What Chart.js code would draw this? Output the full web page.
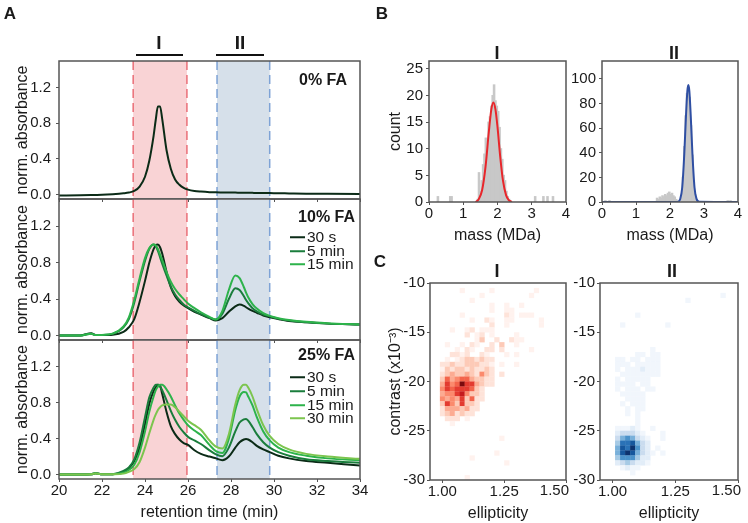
<!DOCTYPE html>
<html>
<head>
<meta charset="utf-8">
<title>FA chromatograms</title>
<script src="https://cdn.jsdelivr.net/npm/chart.js@4.4.1/dist/chart.umd.min.js"></script>
<style>
  html, body { margin: 0; padding: 0; background: #fff; }
  #fig { position: relative; width: 748px; height: 523px; overflow: hidden;
         font-family: "Liberation Sans", Arial, Helvetica, sans-serif; color: #1a1a1a; }
  #fig canvas { position: absolute; left: 0; top: 0; }
  .t { position: absolute; transform: translate(-50%, -50%); white-space: nowrap; line-height: 1; }
  .t.r { transform: translate(-100%, -50%); }
  .b { font-weight: bold; }
  .leg { position: absolute; transform: translateY(-50%); display: flex; align-items: center;
         font-size: 15.5px; line-height: 1; white-space: nowrap; }
  .leg i { display: inline-block; width: 15px; height: 2px; margin-right: 2px; }
  .bar { position: absolute; height: 2px; background: #111; }
</style>
</head>
<body>
<div id="fig">
  <canvas id="chromTop" width="748" height="523"></canvas>
  <canvas id="chromMid" width="748" height="523"></canvas>
  <canvas id="chromBot" width="748" height="523"></canvas>
  <canvas id="massI" width="748" height="523"></canvas>
  <canvas id="massII" width="748" height="523"></canvas>
  <canvas id="heatI" width="748" height="523"></canvas>
  <canvas id="heatII" width="748" height="523"></canvas>

  <div class="t b" style="left:10px;top:13px;font-size:17px">A</div>
  <div class="t b" style="left:382px;top:13px;font-size:17px">B</div>
  <div class="t b" style="left:380px;top:261px;font-size:17px">C</div>

  <div class="t b" style="left:159px;top:42px;font-size:19px">I</div>
  <div class="bar" style="left:136px;top:54px;width:47px"></div>
  <div class="t b" style="left:240px;top:42px;font-size:19px">II</div>
  <div class="bar" style="left:216px;top:54px;width:48px"></div>

  <div class="t b" style="left:497px;top:53px;font-size:18px">I</div>
  <div class="t b" style="left:674px;top:53px;font-size:18px">II</div>
  <div class="t b" style="left:497px;top:271px;font-size:18px">I</div>
  <div class="t b" style="left:672px;top:271px;font-size:18px">II</div>

  <div class="t r b" style="left:347px;top:80px;font-size:16px">0% FA</div>

  <div class="t r b" style="left:355px;top:217px;font-size:16px">10% FA</div>
  <div class="leg" style="left:290px;top:237px"><i style="background:#0b2b17"></i>30 s</div>
  <div class="leg" style="left:290px;top:251px"><i style="background:#1a7d3c"></i>5 min</div>
  <div class="leg" style="left:290px;top:264px"><i style="background:#2db34b"></i>15 min</div>

  <div class="t r b" style="left:355px;top:355px;font-size:16px">25% FA</div>
  <div class="leg" style="left:290px;top:377px"><i style="background:#0b2b17"></i>30 s</div>
  <div class="leg" style="left:290px;top:391px"><i style="background:#1a7d3c"></i>5 min</div>
  <div class="leg" style="left:290px;top:405px"><i style="background:#2db34b"></i>15 min</div>
  <div class="leg" style="left:290px;top:418px"><i style="background:#7cc54e"></i>30 min</div>
</div>

<script>
// retention time grid (min) shared by all traces
const timeMin = [20, 21, 21.5, 21.7, 22, 22.5, 23, 23.25, 23.5, 23.75, 24, 24.2, 24.4, 24.5, 24.6, 24.7, 24.8, 25, 25.2, 25.4, 25.6, 25.8, 26, 26.3, 26.6, 27, 27.3, 27.6, 27.9, 28.2, 28.4, 28.6, 28.7, 28.8, 29, 29.2, 29.5, 29.8, 30.2, 30.7, 31.5, 32.5, 34];

const fa0 = [-0.01, -0.008, -0.006, -0.005, -0.003, 0.004, 0.014, 0.022, 0.04, 0.09, 0.2, 0.38, 0.66, 0.84, 0.99, 0.99, 0.85, 0.5, 0.29, 0.17, 0.11, 0.075, 0.055, 0.04, 0.033, 0.027, 0.025, 0.024, 0.023, 0.022, 0.021, 0.02, 0.02, 0.02, 0.019, 0.018, 0.017, 0.016, 0.015, 0.013, 0.01, 0.008, 0.005];

const fa10_30s = [0, 0, 0.025, 0.004, 0.004, 0.008, 0.04, 0.09, 0.18, 0.37, 0.6, 0.8, 0.95, 0.99, 1.0, 0.97, 0.9, 0.7, 0.53, 0.43, 0.37, 0.33, 0.3, 0.26, 0.23, 0.19, 0.165, 0.19, 0.26, 0.32, 0.34, 0.325, 0.31, 0.295, 0.27, 0.25, 0.22, 0.2, 0.18, 0.16, 0.145, 0.13, 0.12];
const fa10_5min = [0, 0, 0.02, 0.004, 0.005, 0.018, 0.09, 0.18, 0.36, 0.6, 0.82, 0.95, 1.0, 0.98, 0.93, 0.86, 0.79, 0.66, 0.54, 0.45, 0.39, 0.34, 0.31, 0.27, 0.235, 0.195, 0.175, 0.24, 0.4, 0.52, 0.5, 0.43, 0.39, 0.355, 0.3, 0.265, 0.23, 0.21, 0.185, 0.165, 0.145, 0.13, 0.12];
const fa10_15min = [0, 0, 0.02, 0.004, 0.006, 0.02, 0.1, 0.2, 0.39, 0.63, 0.85, 0.96, 1.0, 0.99, 0.95, 0.89, 0.83, 0.7, 0.59, 0.51, 0.45, 0.4, 0.35, 0.3, 0.255, 0.205, 0.175, 0.27, 0.5, 0.66, 0.63, 0.53, 0.47, 0.42, 0.345, 0.295, 0.245, 0.215, 0.19, 0.17, 0.15, 0.135, 0.12];

const fa25_30s = [0, 0, 0.002, 0.015, 0.002, 0.003, 0.03, 0.07, 0.15, 0.3, 0.56, 0.79, 0.93, 0.97, 1.0, 0.99, 0.9, 0.7, 0.54, 0.45, 0.39, 0.35, 0.33, 0.27, 0.23, 0.2, 0.18, 0.16, 0.2, 0.3, 0.36, 0.39, 0.395, 0.39, 0.36, 0.32, 0.28, 0.25, 0.21, 0.18, 0.15, 0.13, 0.1];
const fa25_5min = [0, 0, 0.002, 0.015, 0.002, 0.004, 0.04, 0.08, 0.17, 0.36, 0.64, 0.86, 0.97, 1.0, 1.0, 0.98, 0.94, 0.83, 0.71, 0.61, 0.53, 0.47, 0.42, 0.38, 0.34, 0.27, 0.225, 0.205, 0.3, 0.48, 0.58, 0.615, 0.62, 0.6, 0.53, 0.45, 0.36, 0.3, 0.25, 0.21, 0.17, 0.15, 0.13];
const fa25_15min = [0, 0, 0.002, 0.014, 0.002, 0.003, 0.02, 0.05, 0.11, 0.25, 0.48, 0.7, 0.87, 0.94, 0.98, 1.0, 1.0, 0.95, 0.87, 0.77, 0.68, 0.61, 0.55, 0.49, 0.44, 0.33, 0.26, 0.24, 0.4, 0.72, 0.87, 0.92, 0.915, 0.87, 0.77, 0.64, 0.48, 0.38, 0.3, 0.25, 0.21, 0.18, 0.16];
const fa25_30min = [0, 0, 0.002, 0.012, 0.002, 0.003, 0.01, 0.03, 0.06, 0.14, 0.3, 0.46, 0.61, 0.67, 0.72, 0.75, 0.77, 0.78, 0.78, 0.75, 0.7, 0.65, 0.6, 0.55, 0.5, 0.38, 0.31, 0.29, 0.45, 0.78, 0.94, 1.0, 1.0, 0.97, 0.87, 0.73, 0.55, 0.43, 0.34, 0.28, 0.23, 0.2, 0.175];

const absTicks = [0, 0.4, 0.8, 1.2];
const timeTicks = [20, 22, 24, 26, 28, 30, 32, 34];
const poolI = [23.45, 25.95];
const poolII = [27.35, 29.8];

// mass photometry histograms (bin centre in MDa, count)
const massI = [0.26, 0.62, 0.66, 1.42, 1.46, 1.50, 1.54, 1.58, 1.62, 1.66, 1.70, 1.74, 1.78, 1.82, 1.86, 1.90, 1.94, 1.98, 2.02, 2.06, 2.10, 2.14, 2.18, 2.22, 2.26, 2.30, 2.34, 3.10, 3.34, 3.46, 3.62];
const countI = [1, 1, 1, 0.5, 5.5, 2, 4, 7, 9, 12, 11, 15, 16, 18, 20, 22, 19, 18, 17, 14, 10, 8, 5, 4, 2, 1, 0.5, 1, 1, 1, 1];
const fitMassI = [1.36, 1.45, 1.55, 1.65, 1.75, 1.82, 1.88, 1.94, 2.0, 2.08, 2.16, 2.25, 2.33, 2.42];
const fitCountI = [0, 0.5, 2.2, 6.6, 13.4, 17.4, 18.7, 17.4, 14.1, 8.5, 4.0, 1.3, 0.36, 0];

const massII = [0.10, 0.22, 1.62, 1.66, 1.70, 1.74, 1.78, 1.82, 1.86, 1.90, 1.94, 1.98, 2.02, 2.06, 2.10, 2.14, 2.18, 2.22, 2.34, 2.38, 2.42, 2.46, 2.50, 2.54, 2.58, 2.62, 2.66, 2.70, 2.74, 2.78, 3.70, 3.78];
const countII = [1, 1, 3, 2, 4, 3, 5, 4, 6, 5, 7, 8, 6, 7, 5, 4, 2, 1, 5, 20, 45, 70, 88, 93, 85, 62, 38, 17, 6, 2, 1, 1];
const fitMassII = [0, 2.22, 2.3, 2.36, 2.42, 2.47, 2.51, 2.54, 2.57, 2.61, 2.66, 2.72, 2.78, 2.86, 4];
const fitCountII = [0, 0, 2.5, 12, 39, 70, 90, 95, 90, 70, 39, 12, 2.5, 0.2, 0];

const massTicks = [0, 1, 2, 3, 4];
const countTicksI = [0, 5, 10, 15, 20, 25];
const countTicksII = [0, 20, 40, 60, 80, 100];

// 2D histograms: rows from contrast -10 downwards (0.5 per row), columns from ellipticity 0.95 (0.02 per column), value 0-9
const heatX0 = 0.95, heatDX = 0.02, heatY0 = -10, heatDY = 0.5;
const heatRowsI = [
  "0000000000000000000000000000",
  "0000001000001000000001000000",
  "0000000000100000000010000000",
  "0000000010000000000000000000",
  "0000000000001001001000000000",
  "0000000000001001100000000000",
  "0000001000000002101110000000",
  "0000000010021001100000100000",
  "0000000000002001000000100000",
  "0000100120111000000000000000",
  "0000000201201000010000000000",
  "0000000001300200211000000000",
  "0001001021002030010000000000",
  "0000010210022020000010000000",
  "0000221200210001010000000000",
  "0001012332322000000000000000",
  "0022322333221010010000000000",
  "0013233232232000000000000000",
  "0023433432532020000000000000",
  "0036456643322000000000000000",
  "0047569774322000000000000000",
  "0057677763200000000000000000",
  "0045578533200000000000000000",
  "0054547362200000000000000000",
  "0037537332000000000000000000",
  "0024443422000000000000000000",
  "0023423220000000000000000000",
  "0002220100000000000000000000",
  "0000100000000000000000000000",
  "0000000000000000000000000000",
  "0000000000000000000000000000",
  "0000000000000010000000000000",
  "0000000000000000000000000000",
  "0000000000000000000000000000",
  "0000000000000100000000000000",
  "0000000010000000000000000000",
  "0000000000000001000000000000",
  "0000000000000000000000000000",
  "0000000000000000000000000000",
  "0000000100000000000000000000"
];
const heatRowsII = [
  "0000000000000000000000000000",
  "0000000000000000000000000000",
  "0000000000000000000000001000",
  "0000000000000000010000000000",
  "0000000000000000000000000000",
  "0000000000000000000000000000",
  "0000000100000000000000000000",
  "0000000000000000000000000000",
  "0000100000000100000000000000",
  "0000000000000000000000000000",
  "0000000000000000000000000000",
  "0000000000000000000000000000",
  "0000000000000000000000000000",
  "0000000000100000000000000000",
  "0000000110110000000000000000",
  "0001101101110000000000000000",
  "0001110111110000000000000000",
  "0001011121110000000000000000",
  "0000111111110000000000000000",
  "0001011111000000000000000000",
  "0001111011000000000000000000",
  "0001011101100000000000000000",
  "0000111110000000000000000000",
  "0000011110000000000000000000",
  "0000101110000000000000000000",
  "0000010110000000000000000000",
  "0000010100000000000000000000",
  "0000000100000000000000000000",
  "0000000100000000000000000000",
  "0001112100100000000000000000",
  "0002333210001000000000000000",
  "0003565321001000000000000000",
  "0004778532000000000000000000",
  "0005879632010000000000000000",
  "0005898532101000000000000000",
  "0004666422000000000000000000",
  "0002343221000000000000000000",
  "0000121100000000000000000000",
  "0000001000000000000000000000",
  "0000000000000000000000000000"
];
const ellipTicks = [1.0, 1.25, 1.5];
const contrastTicks = [-30, -25, -20, -15, -10];

const FONT = '"Liberation Sans", Arial, Helvetica, sans-serif';
const TICK_SIZE = 15;
const redShades = ["#fff2ee", "#fee3d9", "#fdcab7", "#fcab92", "#fb8a6d", "#f3644b", "#e33b30", "#c51b1e", "#7a0a0d"];
const blueShades = ["#f1f6fc", "#e2edf8", "#cadcef", "#a6cae5", "#79b0da", "#4b92ca", "#2a72b7", "#16579d", "#0c326e"];

function fitTo(size) {
    return (s) => {
        if (s.isHorizontal()) s.height = size; else s.width = size;
        s.paddingLeft = 0; s.paddingRight = 0; s.paddingTop = 0; s.paddingBottom = 0;
    };
}

function axis(o) {
    return {
        type: "linear",
        min: o.min,
        max: o.max,
        offset: false,
        afterBuildTicks: (s) => { s.ticks = o.ticks.map((v) => ({ value: v })); },
        afterFit: fitTo(o.size),
        grid: { display: true, offset: false, drawOnChartArea: false, drawTicks: true, tickLength: 3, color: "#555" },
        border: { display: false },
        ticks: {
            display: o.labels !== false,
            font: { family: FONT, size: TICK_SIZE, lineHeight: 1 },
            color: "#1a1a1a",
            padding: o.tickPad,
            maxRotation: 0,
            autoSkip: false,
            callback: o.fmt || ((v) => String(v))
        },
        title: o.title
            ? { display: true, text: o.title, font: { family: FONT, size: 16 }, color: "#1a1a1a", padding: o.titlePad }
            : { display: false }
    };
}

function chartOptions(area, yW, xH, scales) {
    return {
        responsive: false,
        animation: false,
        devicePixelRatio: 1,
        events: [],
        layout: { padding: { left: area[0] - yW, top: area[1], right: 748 - area[2], bottom: 523 - area[3] - xH } },
        plugins: { legend: { display: false }, tooltip: { enabled: false } },
        scales: scales
    };
}

const framePlugin = {
    id: "frame",
    afterDraw(chart) {
        const a = chart.chartArea, c = chart.ctx;
        c.save();
        c.strokeStyle = "#555";
        c.lineWidth = 1.5;
        c.strokeRect(a.left, a.top, a.right - a.left, a.bottom - a.top);
        c.restore();
    }
};

// shaded elution windows I and II with dashed edges
const poolPlugin = {
    id: "pools",
    beforeDatasetsDraw(chart) {
        const x = chart.scales.x, a = chart.chartArea, c = chart.ctx;
        [[poolI, "#f9d3d5", "#ea6f78"], [poolII, "#d6e0ea", "#7ea3d6"]].forEach(([r, fill, edge]) => {
            const x1 = x.getPixelForValue(r[0]), x2 = x.getPixelForValue(r[1]);
            c.save();
            c.fillStyle = fill;
            c.fillRect(x1, a.top, x2 - x1, a.bottom - a.top);
            c.strokeStyle = edge;
            c.lineWidth = 1.5;
            c.setLineDash([9, 5]);
            c.beginPath();
            c.moveTo(x1, a.top); c.lineTo(x1, a.bottom);
            c.moveTo(x2, a.top); c.lineTo(x2, a.bottom);
            c.stroke();
            c.restore();
        });
    }
};

function heatPlugin(rows, shades) {
    return {
        id: "heat",
        beforeDatasetsDraw(chart) {
            const x = chart.scales.x, y = chart.scales.y, a = chart.chartArea, c = chart.ctx;
            c.save();
            c.beginPath();
            c.rect(a.left, a.top, a.right - a.left, a.bottom - a.top);
            c.clip();
            rows.forEach((row, r) => {
                for (let k = 0; k < row.length; k++) {
                    const v = +row[k];
                    if (!v) continue;
                    const x1 = x.getPixelForValue(heatX0 + k * heatDX);
                    const x2 = x.getPixelForValue(heatX0 + (k + 1) * heatDX);
                    const y1 = y.getPixelForValue(heatY0 - r * heatDY);
                    const y2 = y.getPixelForValue(heatY0 - (r + 1) * heatDY);
                    c.fillStyle = shades[v - 1];
                    c.fillRect(x1, y1, x2 - x1 + 0.3, y2 - y1 + 0.3);
                }
            });
            c.restore();
        }
    };
}

// last ellipticity label sits flush with the right frame
const edgeLabelPlugin = {
    id: "edgeLabel",
    afterDraw(chart) {
        const x = chart.scales.x, c = chart.ctx;
        c.save();
        c.font = TICK_SIZE + "px " + FONT;
        c.fillStyle = "#1a1a1a";
        c.textAlign = "right";
        c.textBaseline = "middle";
        c.fillText("1.50", x.getPixelForValue(1.5) + 3, chart.chartArea.bottom + 11);
        c.restore();
    }
};

function trace(values, color, order) {
    return {
        data: timeMin.map((t, i) => ({ x: t, y: values[i] })),
        borderColor: color,
        borderWidth: 2,
        pointRadius: 0,
        fill: false,
        order: order,
        cubicInterpolationMode: "monotone"
    };
}

document.addEventListener("DOMContentLoaded", function () {
    const green = { s30: "#0b2b17", m5: "#1a7d3c", m15: "#2db34b", m30: "#7cc54e" };

    function chromChart(id, area, datasets, bottom) {
        const ctx = document.getElementById(id).getContext("2d");
        new Chart(ctx, {
            type: "line",
            data: { datasets: datasets },
            options: chartOptions(area, 46, bottom ? 44 : 0, {
                x: axis({ min: 20, max: 34, ticks: timeTicks, size: bottom ? 44 : 0, labels: bottom, tickPad: 1,
                          title: bottom ? "retention time (min)" : null, titlePad: { top: 0, bottom: 1 } }),
                y: axis({ min: -0.05, max: 1.5, ticks: absTicks, size: 46, tickPad: 5, fmt: (v) => v.toFixed(1),
                          title: "norm. absorbance", titlePad: { top: 0, bottom: 0 } })
            }),
            plugins: [poolPlugin, framePlugin]
        });
    }

    chromChart("chromTop", [59, 61, 360, 199], [trace(fa0, green.s30, 1)], false);
    chromChart("chromMid", [59, 199, 360, 340], [
        trace(fa10_30s, green.s30, 3),
        trace(fa10_5min, green.m5, 2),
        trace(fa10_15min, green.m15, 1)
    ], false);
    chromChart("chromBot", [59, 340, 360, 479], [
        trace(fa25_30s, green.s30, 4),
        trace(fa25_5min, green.m5, 3),
        trace(fa25_15min, green.m15, 2),
        trace(fa25_30min, green.m30, 1)
    ], true);

    function massChart(id, area, bins, counts, fitX, fitY, fitColor, yMax, yTicks, withTitle) {
        const ctx = document.getElementById(id).getContext("2d");
        const yW = withTitle ? 46 : 30;
        new Chart(ctx, {
            type: "bar",
            data: {
                datasets: [
                    {
                        type: "line",
                        data: fitX.map((m, i) => ({ x: m, y: fitY[i] })),
                        borderColor: fitColor,
                        borderWidth: 2,
                        pointRadius: 0,
                        cubicInterpolationMode: "monotone",
                        order: 0
                    },
                    {
                        type: "bar",
                        data: bins.map((m, i) => ({ x: m, y: counts[i] })),
                        backgroundColor: "#c8c8c8",
                        barPercentage: 1,
                        categoryPercentage: 1,
                        inflateAmount: 0.6,
                        order: 1
                    }
                ]
            },
            options: chartOptions(area, yW, 44, {
                x: axis({ min: 0, max: 4, ticks: massTicks, size: 44, tickPad: 1,
                          title: "mass (MDa)", titlePad: { top: 0, bottom: 1 } }),
                y: axis({ min: 0, max: yMax, ticks: yTicks, size: yW, tickPad: 3,
                          title: withTitle ? "count" : null, titlePad: { top: 3, bottom: 0 } })
            }),
            plugins: [framePlugin]
        });
    }

    massChart("massI", [429, 61, 566, 202], massI, countI, fitMassI, fitCountI, "#e8262b", 26.5, countTicksI, true);
    massChart("massII", [602, 61, 738, 202], massII, countII, fitMassII, fitCountII, "#2f4fa3", 114.6, countTicksII, false);

    function heatChart(id, area, rows, shades, withTitle) {
        const ctx = document.getElementById(id).getContext("2d");
        const yW = withTitle ? 46 : 40;
        new Chart(ctx, {
            type: "scatter",
            data: { datasets: [] },
            options: chartOptions(area, yW, 44, {
                x: axis({ min: 0.95, max: 1.5, ticks: ellipTicks, size: 44, tickPad: 1,
                          fmt: (v) => (v >= 1.5 ? "" : v.toFixed(2)),
                          title: "ellipticity", titlePad: { top: 0, bottom: 1 } }),
                y: axis({ min: -30, max: -10, ticks: contrastTicks, size: yW, tickPad: 2,
                          title: withTitle ? "contrast (x10\u207B\u00B3)" : null, titlePad: { top: 2, bottom: 0 } })
            }),
            plugins: [heatPlugin(rows, shades), edgeLabelPlugin, framePlugin]
        });
    }

    heatChart("heatI", [430, 283, 566, 480], heatRowsI, redShades, true);
    heatChart("heatII", [600, 283, 738, 480], heatRowsII, blueShades, false);
});
</script>
</body>
</html>
